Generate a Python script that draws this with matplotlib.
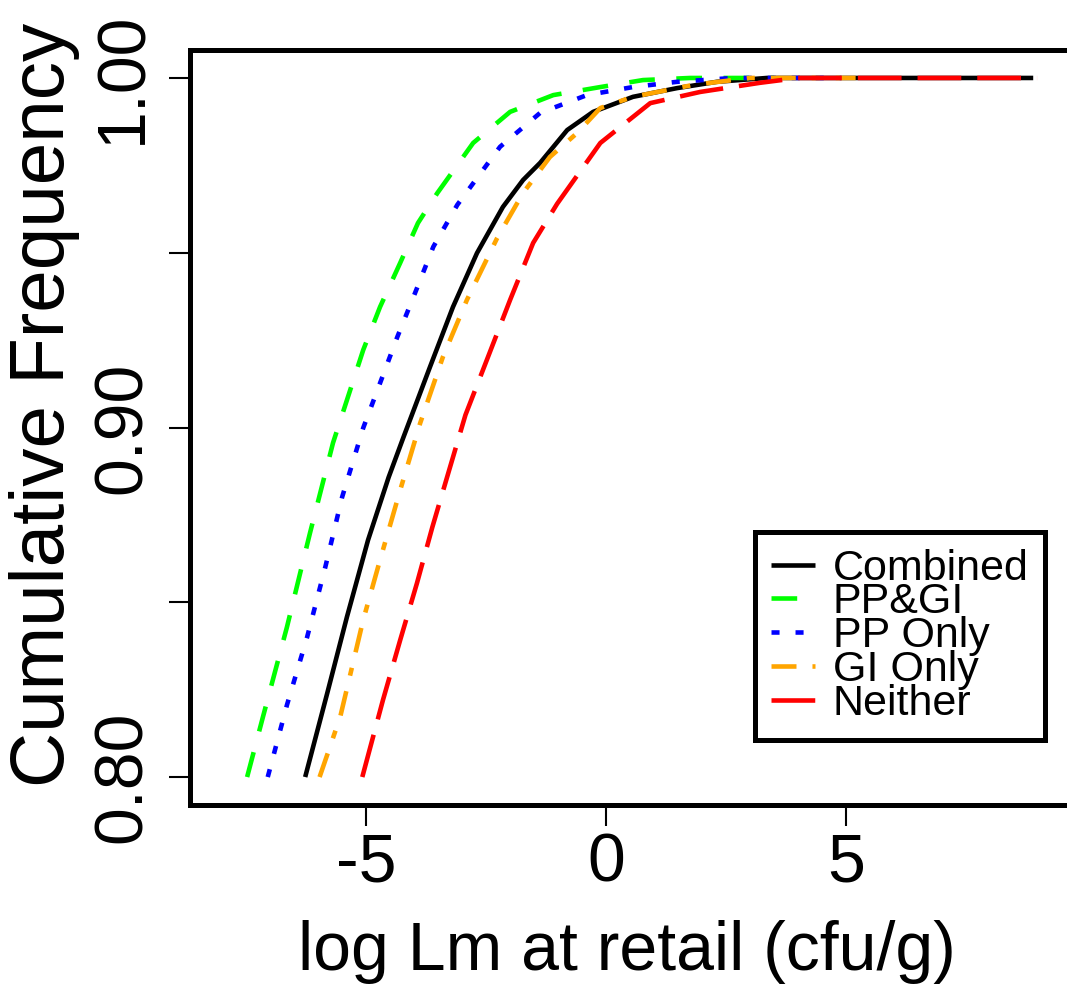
import matplotlib
matplotlib.use("Agg")
import matplotlib.pyplot as plt

plt.rcParams['font.family'] = ['Liberation Sans', 'DejaVu Sans']
plt.rcParams['lines.scale_dashes'] = False

# ---- data ----
y_combined = [0.800, 0.824, 0.8458, 0.8678, 0.8858, 0.8973, 0.9173, 0.9345, 0.9499, 0.9631,
              0.9708, 0.9757, 0.9851, 0.9903, 0.9946, 0.9971, 0.9989, 1.000, 1.000]
x_combined = [-6.27, -5.81, -5.40, -4.96, -4.53, -4.22, -3.67, -3.19, -2.69, -2.15,
              -1.73, -1.375, -0.81, -0.27, 0.56, 1.48, 2.31, 3.35, 8.90]

y_ppgi = [0.800, 0.8172, 0.8429, 0.8698, 0.8956, 0.9222, 0.9345, 0.9471, 0.9585, 0.9670,
          0.9814, 0.9903, 0.9951, 0.9974, 0.9994, 1.000, 1.000]
x_ppgi = [-7.48, -7.15, -6.65, -6.17, -5.69, -5.06, -4.71, -4.29, -3.92, -3.52,
          -2.77, -2.00, -1.10, -0.12, 0.77, 1.75, 3.50]

y_pponly = [0.800, 0.8206, 0.8400, 0.8601, 0.8801, 0.8999, 0.9127, 0.9259, 0.9385, 0.9517,
            0.9637, 0.9803, 0.9900, 0.9951, 0.9974, 0.9989, 1.000, 1.000]
x_pponly = [-7.05, -6.65, -6.23, -5.85, -5.50, -5.06, -4.71, -4.35, -3.98, -3.60,
            -3.10, -2.21, -1.375, -0.40, 0.56, 1.48, 2.65, 4.90]

y_gionly = [0.800, 0.8172, 0.8450, 0.8621, 0.8821, 0.9012, 0.9202, 0.9365, 0.9542, 0.9671,
            0.9774, 0.9843, 0.9914, 0.9946, 0.9980, 1.000, 1.000]
x_gionly = [-5.97, -5.54, -5.06, -4.71, -4.29, -3.875, -3.40, -2.90, -2.27, -1.73,
            -1.17, -0.60, -0.12, 0.56, 1.81, 3.00, 5.20]

y_neither = [0.800, 0.8220, 0.8392, 0.8555, 0.8715, 0.8878, 0.9036, 0.9202, 0.9365, 0.9528,
             0.9640, 0.9814, 0.9928, 0.9960, 0.9986, 1.000, 1.000]
x_neither = [-5.08, -4.65, -4.29, -3.94, -3.62, -3.27, -2.93, -2.46, -2.00, -1.52,
             -1.02, -0.12, 0.92, 1.96, 3.20, 4.00, 8.98]

series_names = ["Combined", "PP&GI", "PP Only", "GI Only", "Neither"]
series_x = [x_combined, x_ppgi, x_pponly, x_gionly, x_neither]
series_y = [y_combined, y_ppgi, y_pponly, y_gionly, y_neither]

x_ticks = [-5, 0, 5]
x_tick_labels = ["-5", "0", "5"]
y_ticks = [0.80, 0.85, 0.90, 0.95, 1.00]
y_tick_labels = ["0.80", "", "0.90", "", "1.00"]

# ---- styles ----
colors = ["black", "#00FF00", "#0000FF", "#FFA500", "#FF0000"]
dashes = [None, (18.5, 15.5), (5.8, 11.5), (18, 11.5, 5.8, 11.5), (31.5, 11.5)]
lw = 3.3

W, H = 1067, 992
fig = plt.figure(figsize=(W / 100, H / 100), dpi=100)
ax_left, ax_right, ax_top, ax_bottom = 190, 1074, 50, 805
ax = fig.add_axes([ax_left / W, 1 - ax_bottom / H, (ax_right - ax_left) / W, (ax_bottom - ax_top) / H])

for name, xs, ys, c, d in zip(series_names, series_x, series_y, colors, dashes):
    ln, = ax.plot(xs, ys, color=c, lw=lw, label=name, solid_capstyle='butt',
                  dash_capstyle='butt', solid_joinstyle='round', dash_joinstyle='round')
    if d is not None:
        ln.set_dashes(d)

ax.set_xlim(-8.67, 9.75)
ax.set_ylim(0.792, 1.008)

ax.set_xticks(x_ticks)
ax.set_xticklabels(x_tick_labels)
ax.set_yticks(y_ticks)
ax.set_yticklabels(y_tick_labels)

ax.tick_params(axis='both', direction='out', length=15, width=1.5, labelsize=49, color='black')
ax.tick_params(axis='x', pad=4)
ax.tick_params(axis='y', pad=10, labelrotation=90)
for lab in ax.get_yticklabels():
    lab.set_va('center')

for s in ['left', 'top', 'bottom', 'right']:
    ax.spines[s].set_linewidth(3.6)

ax.set_xlabel("log Lm at retail (cfu/g)", fontsize=49)
ax.set_ylabel("Cumulative Frequency", fontsize=55)
ax.xaxis.set_label_coords(0.494, -0.152)
ax.yaxis.set_label_coords(-0.124, 0.53)

leg = ax.legend(loc='lower right', bbox_to_anchor=(0.967, 0.086), borderaxespad=0,
                fontsize=31, handlelength=1.0, handletextpad=0.42, labelspacing=-0.145,
                borderpad=0.38, frameon=True, fancybox=False, edgecolor='black', framealpha=1)
leg.get_frame().set_linewidth(3.6)
for h in leg.get_lines():
    h.set_linewidth(3.3)

fig.savefig("out.png", dpi=100)
